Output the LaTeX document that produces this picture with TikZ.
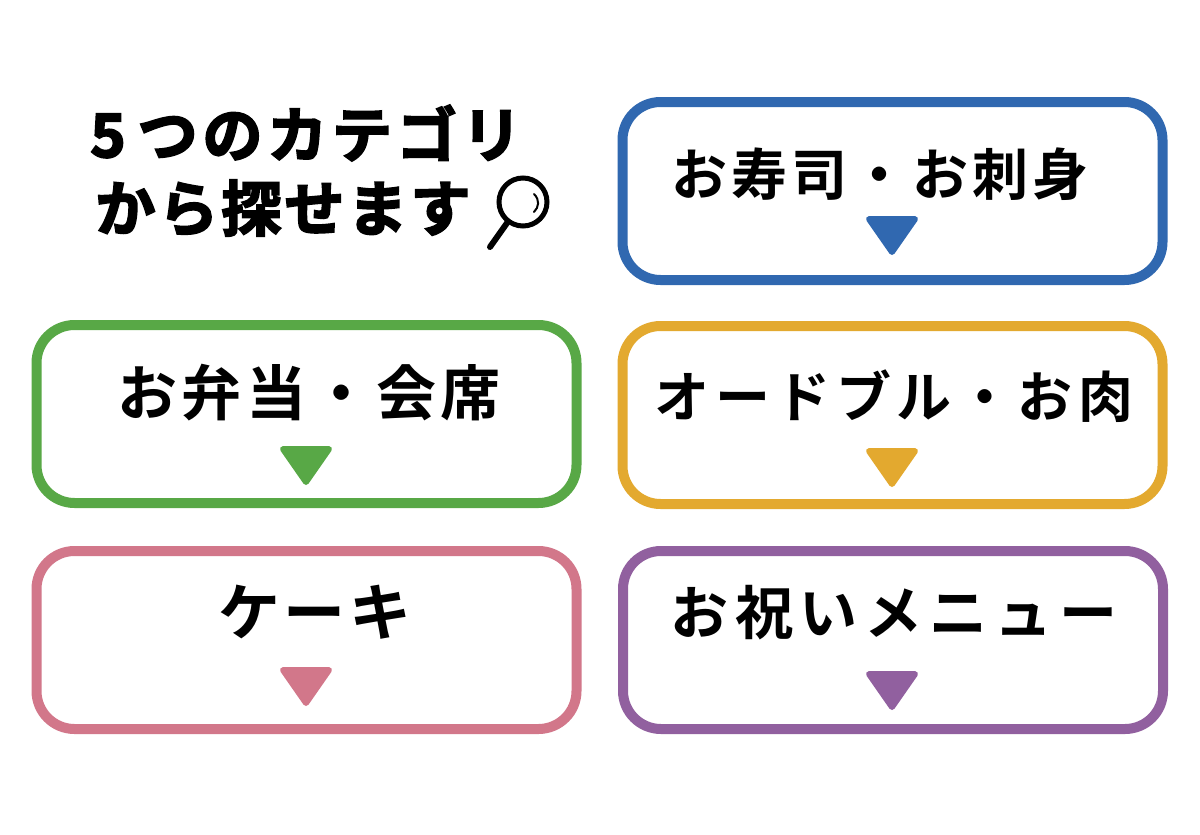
\documentclass[tikz,border=0pt]{standalone}
\usepackage{fontspec}
\newfontfamily\cjklab{Noto Sans CJK JP Bold}
\newfontfamily\cjkhead{Noto Sans CJK JP Bold}[FakeBold=3.2]
\definecolor{cblue}{HTML}{3068B0}
\definecolor{cgreen}{HTML}{58A846}
\definecolor{cyellow}{HTML}{E3A92F}
\definecolor{cpink}{HTML}{D2778A}
\definecolor{cpurple}{HTML}{91609F}
\tikzset{x=1pt,y=-1pt,
 card/.style={draw=#1,line width=10pt,rounded corners=38pt,minimum width=540pt,minimum height=178pt,fill=white},
 lab/.style 2 args={font=\cjklab\addfontfeature{LetterSpace=#2}\fontsize{#1}{#1}\selectfont,inner sep=0pt,text=black},
 tip/.style={fill=#1,draw=#1,line width=6pt,line join=round},
 head/.style={font=\cjkhead\addfontfeature{LetterSpace=#1}\fontsize{60}{60}\selectfont,inner sep=0pt,text=black}}
\newcommand{\tri}[3]{\fill[tip=#3] (#1-23,#2) -- (#1+23,#2) -- (#1,#2+33) -- cycle;}
\begin{document}
\begin{tikzpicture}
\useasboundingbox (0,0) rectangle (1200,835);
\fill[white] (0,0) rectangle (1200,835);
\node[card=cblue] (a) at (892.5,191) {};
\node[card=cgreen] (b) at (306.5,414) {};
\node[card=cyellow] (c) at (892.5,415) {};
\node[card=cpink] (d) at (306.5,640) {};
\node[card=cpurple] (e) at (893,640) {};
\node[lab={56}{7.5}] (ta) at (880,174) {お寿司・お刺身};
\node[lab={60}{8}] (tb) at (309,393) {お弁当・会席};
\node[lab={55}{10}] (tc) at (894,396) {オードブル・お肉};
\node[lab={62}{6}] (td) at (315,612) {ケーキ};
\node[lab={58}{12}] (te) at (894,613) {お祝いメニュー};
\tri{892}{219}{cblue}
\tri{306}{449}{cgreen}
\tri{892}{451}{cyellow}
\tri{306}{670}{cpink}
\tri{892}{674}{cpurple}
\node[head=8] (h1) at (306,133) {5\hspace{12pt}つのカテゴリ};
\node[head=5] (h2) at (283,208) {から探せます};
\draw[line width=5pt] (523,202) circle (24pt);
\draw[line width=6pt,line cap=round] (507,223) -- (490,247);
\draw[line width=2pt,line cap=round] (534,194) .. controls (540,200) and (539,207) .. (534,212);
\end{tikzpicture}
\end{document}
